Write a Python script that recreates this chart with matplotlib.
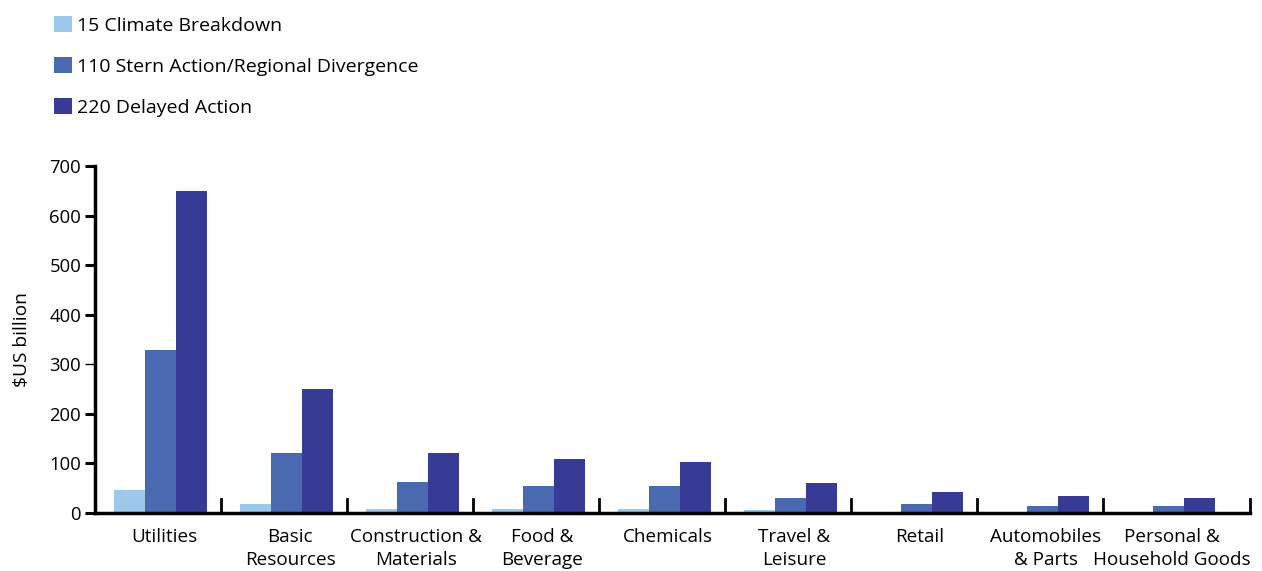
import matplotlib
matplotlib.use("Agg")
import matplotlib.pyplot as plt
import numpy as np
from matplotlib.patches import Patch

plt.rcParams['font.family'] = ['Open Sans', 'DejaVu Sans']

categories = ["Utilities", "Basic\nResources", "Construction &\nMaterials", "Food &\nBeverage",
              "Chemicals", "Travel &\nLeisure", "Retail", "Automobiles\n& Parts",
              "Personal &\nHousehold Goods"]
series_names = ["15 Climate Breakdown", "110 Stern Action/Regional Divergence", "220 Delayed Action"]
climate_breakdown = [46, 18, 8, 8, 8, 6, 3, 3, 3]
stern_action = [330, 122, 62, 54, 54, 30, 18, 14, 14]
delayed_action = [650, 250, 122, 109, 103, 60, 42, 34, 30]
colors = ["#9DC8EA", "#4A69B0", "#373B96"]
yticks = [0, 100, 200, 300, 400, 500, 600, 700]

fig = plt.figure(figsize=(12.62, 5.71), dpi=100)
ax = fig.add_axes([0.0753, 0.1016, 0.9152, 0.607])

x = np.arange(len(categories))
w = 0.246
for i, (vals, c) in enumerate(zip([climate_breakdown, stern_action, delayed_action], colors)):
    ax.bar(x + (i - 1) * w + 0.02, vals, width=w, color=c, linewidth=0)

xmax = len(categories) - 0.33
ax.set_xlim(-0.5, xmax)
ax.set_ylim(0, 700)
ax.set_yticks(yticks)
ax.tick_params(axis='y', direction='out', length=7, width=2.2, labelsize=13.3, pad=3)
ax.yaxis.get_major_ticks()[3].tick1line.set_color('#b0b0b0')
ax.yaxis.get_major_ticks()[3].tick1line.set_markeredgewidth(1)
ax.set_xticks(x + 0.05)
ax.set_xticklabels(categories, fontsize=13.6, linespacing=1.35)
ax.tick_params(axis='x', length=0, pad=11)
# category separator ticks
seps = list(np.arange(0.5, len(categories) - 1, 1.0)) + [xmax]
for b in seps:
    ax.plot([b, b], [0, 28], color='black', lw=2, clip_on=False)

for s in ['top', 'right']:
    ax.spines[s].set_visible(False)
for s in ['left', 'bottom']:
    ax.spines[s].set_linewidth(2.5)
ax.set_ylabel("$US billion", fontsize=13.8, labelpad=13)

handles = [Patch(facecolor=c, edgecolor='none') for c in colors]
fig.legend(handles, series_names, loc='upper left', bbox_to_anchor=(0.029, 1.003),
           frameon=False, fontsize=14, handlelength=0.9, handleheight=0.9,
           handletextpad=0.3, labelspacing=1.15)

fig.savefig("out.png", dpi=100)
